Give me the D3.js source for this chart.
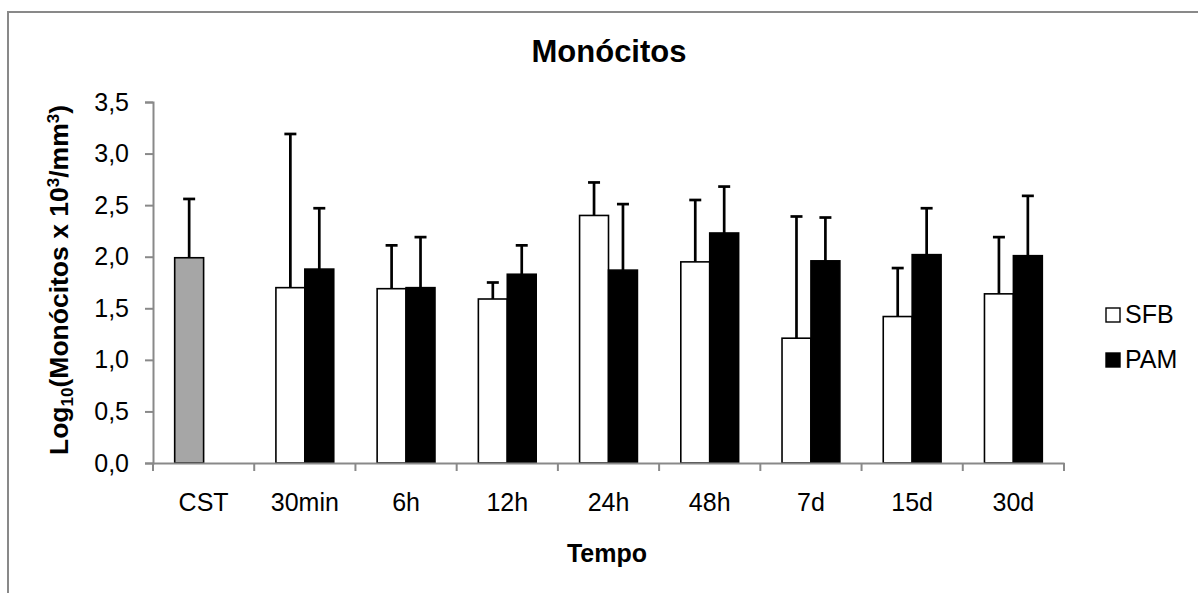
<!DOCTYPE html>
<html>
<head>
<meta charset="utf-8">
<script src="https://cdn.jsdelivr.net/npm/d3@7"></script>
<style>
  html, body { margin: 0; padding: 0; background: #fff; }
  svg { display: block; }
  text { font-family: "Liberation Sans", Arial, sans-serif; fill: #000; }
</style>
</head>
<body>
<svg id="chart" width="1198" height="593"></svg>
<script>
const categories = ["CST", "30min", "6h", "12h", "24h", "48h", "7d", "15d", "30d"];
const series = ["SFB", "PAM"];
const controlMean = [1.99, null, null, null, null, null, null, null, null];
const controlErr  = [0.57, null, null, null, null, null, null, null, null];
const sfbMean = [null, 1.70, 1.69, 1.59, 2.40, 1.95, 1.21, 1.42, 1.64];
const sfbErr  = [null, 1.49, 0.42, 0.16, 0.32, 0.60, 1.18, 0.47, 0.55];
const pamMean = [null, 1.88, 1.70, 1.83, 1.87, 2.23, 1.96, 2.02, 2.01];
const pamErr  = [null, 0.59, 0.49, 0.28, 0.64, 0.45, 0.42, 0.45, 0.58];
const yTicks = [0, 0.5, 1.0, 1.5, 2.0, 2.5, 3.0, 3.5];

const svg = d3.select("#chart");
const axisColor = "#898989";

// outer frame
svg.append("rect").attr("x", 8).attr("y", 12).attr("width", 1220).attr("height", 620)
  .attr("fill", "none").attr("stroke", axisColor).attr("stroke-width", 2);

const x = d3.scaleBand().domain(categories).range([153, 1064]).padding(0);
const xs = d3.scaleBand().domain(series).range([0, x.bandwidth()]).paddingInner(0).paddingOuter(0.75);
const y = d3.scaleLinear().domain([0, 3.5]).range([463, 102]);

// bars data
const bars = [];
categories.forEach((c, i) => {
  if (controlMean[i] != null) bars.push({c, s: "SFB", v: controlMean[i], e: controlErr[i], fill: "#a6a6a6"});
  if (sfbMean[i] != null) bars.push({c, s: "SFB", v: sfbMean[i], e: sfbErr[i], fill: "#ffffff"});
  if (pamMean[i] != null) bars.push({c, s: "PAM", v: pamMean[i], e: pamErr[i], fill: "#000000"});
});

// error bars (upper only) drawn first
const eb = svg.append("g");
bars.forEach(d => {
  const cx = x(d.c) + xs(d.s) + xs.bandwidth() / 2;
  eb.append("line").attr("x1", cx).attr("x2", cx).attr("y1", y(d.v)).attr("y2", y(d.v + d.e))
    .attr("stroke", "#000").attr("stroke-width", 2.7);
  eb.append("line").attr("x1", cx - 6).attr("x2", cx + 6).attr("y1", y(d.v + d.e)).attr("y2", y(d.v + d.e))
    .attr("stroke", "#000").attr("stroke-width", 2.7);
});

svg.append("g").selectAll("rect").data(bars).join("rect")
  .attr("x", d => x(d.c) + xs(d.s))
  .attr("y", d => y(d.v))
  .attr("width", xs.bandwidth())
  .attr("height", d => y(0) - y(d.v))
  .attr("fill", d => d.fill)
  .attr("stroke", "#000").attr("stroke-width", 1.6);

// y axis
const yAxis = svg.append("g").attr("transform", "translate(153,0)")
  .call(d3.axisLeft(y).tickValues(yTicks).tickSize(8).tickPadding(16)
    .tickFormat(d => d3.format(".1f")(d).replace(".", ",")));
yAxis.select(".domain").attr("stroke", axisColor).attr("stroke-width", 2);
yAxis.selectAll(".tick line").attr("stroke", axisColor).attr("stroke-width", 2);
yAxis.selectAll(".tick text").attr("font-size", 25).attr("font-family", "Liberation Sans, Arial, sans-serif").attr("fill", "#000");

// x axis
const xAxis = svg.append("g").attr("transform", "translate(0,463)")
  .call(d3.axisBottom(x).tickSize(0).tickPadding(30));
xAxis.select(".domain").attr("stroke", axisColor).attr("stroke-width", 2);
xAxis.selectAll(".tick text").attr("font-size", 25).attr("font-family", "Liberation Sans, Arial, sans-serif").attr("fill", "#000");
// boundary ticks
const bounds = categories.map(c => x(c)).concat([x.range()[1]]);
svg.append("g").selectAll("line").data(bounds).join("line")
  .attr("x1", d => d).attr("x2", d => d).attr("y1", 463).attr("y2", 471)
  .attr("stroke", axisColor).attr("stroke-width", 2);

// title
svg.append("text").attr("x", 609).attr("y", 62).attr("text-anchor", "middle")
  .attr("font-size", 31).attr("font-weight", "bold").text("Monócitos");

// x title
svg.append("text").attr("x", 607).attr("y", 562).attr("text-anchor", "middle")
  .attr("font-size", 25).attr("font-weight", "bold").text("Tempo");

// y title
const yt = svg.append("text").attr("transform", "translate(68,280) rotate(-90)")
  .attr("text-anchor", "middle").attr("font-size", 26.5).attr("font-weight", "bold");
yt.append("tspan").text("Log");
yt.append("tspan").attr("font-size", 17).attr("dy", 5).text("10");
yt.append("tspan").attr("dy", -5).text("(Monócitos x 10");
yt.append("tspan").attr("font-size", 17).attr("dy", -9).text("3");
yt.append("tspan").attr("dy", 9).text("/mm");
yt.append("tspan").attr("font-size", 17).attr("dy", -9).text("3");
yt.append("tspan").attr("dy", 9).text(")");

// legend
const legend = [{name: "SFB", fill: "#fff", y: 308}, {name: "PAM", fill: "#000", y: 353}];
const lg = svg.append("g");
legend.forEach(l => {
  lg.append("rect").attr("x", 1106).attr("y", l.y).attr("width", 14).attr("height", 14)
    .attr("fill", l.fill).attr("stroke", "#000").attr("stroke-width", 1.4);
  lg.append("text").attr("x", 1125).attr("y", l.y + 15).attr("font-size", 25).text(l.name);
});
</script>
</body>
</html>
